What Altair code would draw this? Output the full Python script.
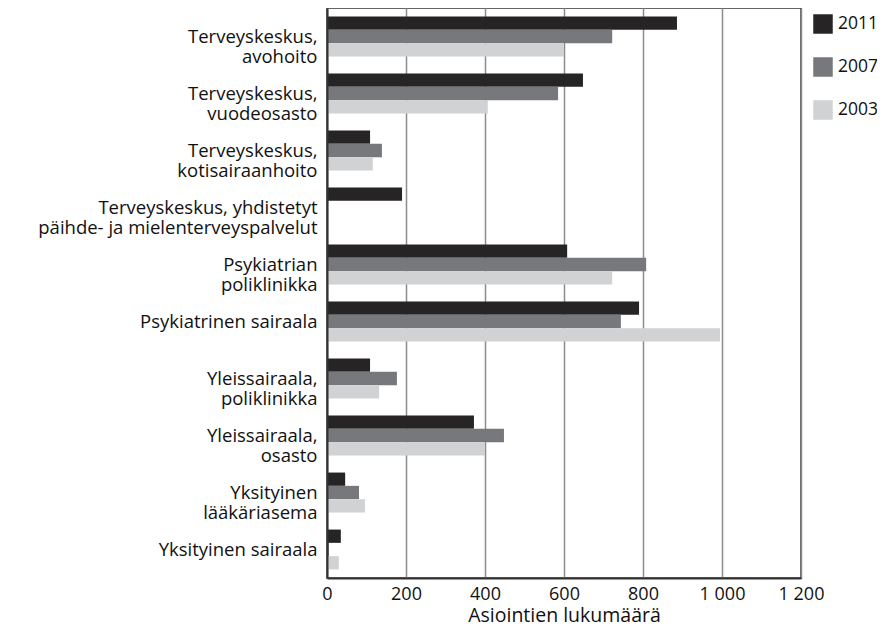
import altair as alt
import pandas as pd

categories = [
    "Terveyskeskus,|avohoito",
    "Terveyskeskus,|vuodeosasto",
    "Terveyskeskus,|kotisairaanhoito",
    "Terveyskeskus, yhdistetyt\u00a0|päihde- ja mielenterveyspalvelut",
    "Psykiatrian\u00a0|poliklinikka\u00a0",
    "Psykiatrinen sairaala",
    "Yleissairaala,|poliklinikka",
    "Yleissairaala,|osasto",
    "Yksityinen|lääkäriasema",
    "Yksityinen sairaala",
]
years = ["2011", "2007", "2003"]
v2011 = [886, 648, 109, 190, 608, 790, 109, 372, 46, 35]
v2007 = [722, 585, 139, None, 808, 744, 177, 448, 81, 5]
v2003 = [600, 407, 116, None, 722, 995, 132, 400, 96, 30]
colors = ["#262425", "#77787b", "#d1d2d4"]

rows = []
for yr, vals in zip(years, [v2011, v2007, v2003]):
    for c, v in zip(categories, vals):
        if v is not None:
            rows.append({"cat": c, "year": yr, "value": v})
df = pd.DataFrame(rows)

FONT = "Open Sans"

chart = alt.Chart(df).mark_bar().encode(
    y=alt.Y("cat:N", sort=categories,
            scale=alt.Scale(paddingInner=0.3, paddingOuter=0.15),
            axis=alt.Axis(title=None, ticks=False, grid=False, labelPadding=10,
                          labelExpr="split(datum.label, '|')", labelLineHeight=20,
                          labelFontSize=18.5, labelFont=FONT, labelColor="#111",
                          domainColor="#333", domainWidth=2, labelLimit=400,
                          zindex=1)),
    yOffset=alt.YOffset("year:N", sort=years),
    x=alt.X("value:Q", scale=alt.Scale(domain=[0, 1200], nice=False),
            axis=alt.Axis(title="Asiointien lukumäärä", values=[0, 200, 400, 600, 800, 1000, 1200],
                          labelExpr="replace(format(datum.value, ','), ',', ' ')",
                          ticks=False, grid=True, gridColor="#8c8c8c", gridWidth=1.5,
                          domainColor="#333", domainWidth=2, labelPadding=7,
                          labelFontSize=18, labelFont=FONT, labelColor="#111",
                          titleFontSize=19.5, titleFont=FONT, titleFontWeight="normal",
                          titleColor="#111", titlePadding=3, labelFlush=False)),
    color=alt.Color("year:N", sort=years,
                    scale=alt.Scale(domain=years, range=colors),
                    legend=alt.Legend(title=None, orient="none", legendX=486, legendY=6,
                                      symbolType="square", symbolSize=380, symbolStrokeWidth=0,
                                      symbolOpacity=1, rowPadding=23, labelFontSize=17.5,
                                      labelFont=FONT, labelColor="#111", labelOffset=5,
                                      labelLimit=100)),
).properties(
    width=474, height=570,
    autosize=alt.AutoSizeParams(type="none"),
    padding={"left": 319, "top": 0, "right": 76, "bottom": 52},
).configure_view(stroke="#333", strokeWidth=1.5)

chart.save("out.html", embed_options={"renderer": "svg", "actions": False})
